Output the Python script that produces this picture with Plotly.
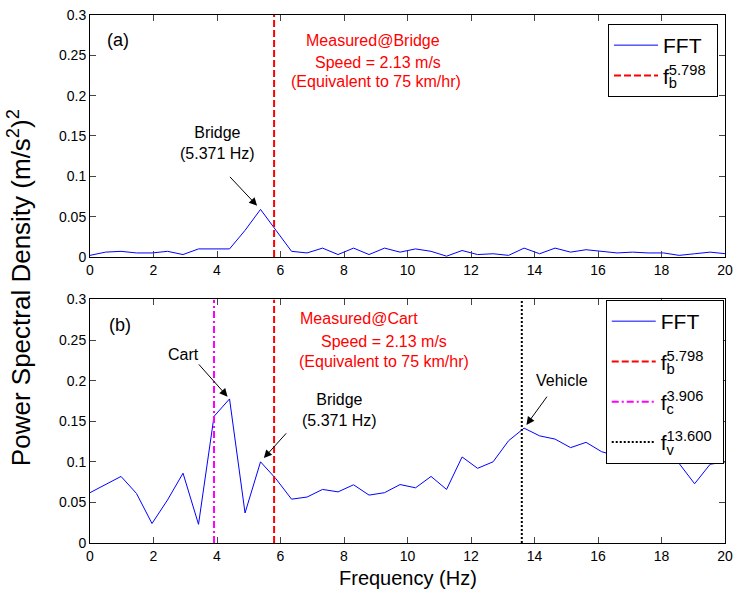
import plotly.graph_objects as go

# ---------------- data ----------------
freq = [0.000, 0.488, 0.977, 1.465, 1.953, 2.441, 2.930, 3.418, 3.906, 4.395,
        4.883, 5.371, 5.859, 6.348, 6.836, 7.324, 7.813, 8.301, 8.789, 9.277,
        9.766, 10.254, 10.742, 11.230, 11.719, 12.207, 12.695, 13.184, 13.672, 14.160,
        14.648, 15.137, 15.625, 16.113, 16.602, 17.090, 17.578, 18.066, 18.555, 19.043,
        19.531, 20.020]

psd_bridge = [0.002, 0.006, 0.007, 0.005, 0.005, 0.007, 0.003, 0.010, 0.010, 0.010,
              0.033, 0.059, 0.033, 0.007, 0.005, 0.011, 0.003, 0.011, 0.003, 0.011,
              0.006, 0.010, 0.007, 0.001, 0.008, 0.003, 0.004, 0.002, 0.011, 0.004,
              0.011, 0.006, 0.009, 0.007, 0.005, 0.006, 0.005, 0.005, 0.002, 0.004,
              0.006, 0.004]

psd_cart = [0.062, 0.072, 0.082, 0.061, 0.024, 0.053, 0.086, 0.023, 0.156, 0.1775,
            0.037, 0.100, 0.079, 0.054, 0.0566, 0.066, 0.063, 0.0717, 0.059, 0.062,
            0.072, 0.068, 0.082, 0.066, 0.106, 0.092, 0.100, 0.126, 0.1415, 0.132,
            0.128, 0.1175, 0.124, 0.1125, 0.107, 0.112, 0.118, 0.114, 0.098, 0.073,
            0.097, 0.100]

f_b = 5.798   # bridge frequency (dashed red)
f_c = 3.906   # cart frequency (dash-dot magenta)
f_v = 13.600  # vehicle frequency (dotted black)
peak_bridge_idx = 11
peak_cart_idx = 9
peak_vehicle_idx = 28

x_ticks = [0, 2, 4, 6, 8, 10, 12, 14, 16, 18, 20]
y_ticks = [0, 0.05, 0.1, 0.15, 0.2, 0.25, 0.3]
y_tick_labels = ["0", "0.05", "0.1", "0.15", "0.2", "0.25", "0.3"]
y_range = [0, 0.3]

FONT = "Liberation Sans, Arial, sans-serif"
BLUE = "#0000FF"
RED = "#FF0000"
MAGENTA = "#FF00FF"


def stacked(sub, sup, back):
    # subscript drawn with negative letter spacing so the superscript sits above it
    return (f'f<sub><span style="letter-spacing:-{back}px">{sub}</span></sub>'
            f'<sup>{sup:.3f}</sup>\u00a0')


fig = go.Figure()

# ---- top panel (a) ----
fig.add_trace(go.Scatter(x=freq, y=psd_bridge, mode="lines", name="FFT",
                         line=dict(color=BLUE, width=1), xaxis="x", yaxis="y",
                         legend="legend", legendgroup="a1"))
fig.add_trace(go.Scatter(x=[f_b, f_b], y=y_range, mode="lines",
                         name=stacked("b", f_b, 8.2),
                         line=dict(color=RED, width=2, dash="7px,3px"),
                         xaxis="x", yaxis="y", legend="legend", legendgroup="a2"))

# ---- bottom panel (b) ----
fig.add_trace(go.Scatter(x=freq, y=psd_cart, mode="lines", name="FFT",
                         line=dict(color=BLUE, width=1), xaxis="x2", yaxis="y2",
                         legend="legend2", legendgroup="b1"))
fig.add_trace(go.Scatter(x=[f_b, f_b], y=y_range, mode="lines",
                         name=stacked("b", f_b, 8.2),
                         line=dict(color=RED, width=2, dash="7px,3px"),
                         xaxis="x2", yaxis="y2", legend="legend2", legendgroup="b2"))
fig.add_trace(go.Scatter(x=[f_c, f_c], y=y_range, mode="lines",
                         name=stacked("c", f_c, 7.3),
                         line=dict(color=MAGENTA, width=2, dash="7px,3px,2px,3px"),
                         xaxis="x2", yaxis="y2", legend="legend2", legendgroup="b3"))
fig.add_trace(go.Scatter(x=[f_v, f_v], y=y_range, mode="lines",
                         name=stacked("v", f_v, 7.3),
                         line=dict(color="black", width=2, dash="2px,2px"),
                         xaxis="x2", yaxis="y2", legend="legend2", legendgroup="b4"))

axis_common = dict(range=[0, 20], tickvals=x_ticks, ticks="inside", ticklen=6,
                   showline=True, linecolor="black", linewidth=1, mirror="ticks",
                   showgrid=False, zeroline=False, automargin=False,
                   tickfont=dict(family=FONT, size=14, color="black"))
yaxis_common = dict(range=y_range, tickvals=y_ticks, ticktext=y_tick_labels,
                    ticks="inside", ticklen=6, showline=True, linecolor="black",
                    linewidth=1, mirror="ticks", showgrid=False, zeroline=False,
                    automargin=False,
                    tickfont=dict(family=FONT, size=14, color="black"))

legend_common = dict(bgcolor="white", bordercolor="black", borderwidth=1,
                     font=dict(family=FONT, size=21, color="black"),
                     itemwidth=44, xanchor="right", yanchor="top",
                     traceorder="grouped")

fig.update_layout(
    width=736, height=592, autosize=False,
    margin=dict(l=90, r=11, t=15, b=49, autoexpand=False),
    paper_bgcolor="white", plot_bgcolor="white",
    showlegend=True,
    xaxis=dict(domain=[0, 1], anchor="y", **axis_common),
    yaxis=dict(domain=[0.5417, 1], anchor="x", **yaxis_common),
    xaxis2=dict(domain=[0, 1], anchor="y2", **axis_common),
    yaxis2=dict(domain=[0, 0.4612], anchor="x2", **yaxis_common),
    legend=dict(x=0.989, y=0.983, tracegroupgap=0, **legend_common),
    legend2=dict(x=0.998, y=0.4602, tracegroupgap=10, **legend_common),
)

ann = []
def txt(x, y, s, xref, yref, color="black", size=16, xanchor="center"):
    ann.append(dict(x=x, y=y, xref=xref, yref=yref, text=s, showarrow=False,
                    xanchor=xanchor, yanchor="middle",
                    font=dict(family=FONT, size=size, color=color)))

def arrow(i, vals, xref, yref, ax, ay, standoff):
    ann.append(dict(x=freq[i], y=vals[i], xref=xref, yref=yref, text="",
                    showarrow=True, ax=ax, ay=ay, arrowhead=2, arrowsize=1.6,
                    arrowwidth=1, arrowcolor="black", standoff=standoff))

# panel (a) texts
txt(0.87, 0.269, "(a)", "x", "y", size=18)
txt(8.91, 0.269, "Measured@Bridge", "x", "y", color=RED)
txt(9.06, 0.2417, "Speed = 2.13 m/s", "x", "y", color=RED)
txt(9.02, 0.217, "(Equivalent to 75 km/hr)", "x", "y", color=RED)
txt(4.0, 0.1407, "Bridge<br>(5.371 Hz)", "x", "y")
arrow(peak_bridge_idx, psd_bridge, "x", "y", -32, -34, 5)

# panel (b) texts
txt(0.96, 0.2686, "(b)", "x2", "y2", size=18)
txt(8.47, 0.276, "Measured@Cart", "x2", "y2", color=RED)
txt(9.26, 0.2477, "Speed = 2.13 m/s", "x2", "y2", color=RED)
txt(9.26, 0.223, "(Equivalent to 75 km/hr)", "x2", "y2", color=RED)
txt(2.93, 0.2328, "Cart", "x2", "y2")
txt(7.87, 0.1639, "Bridge<br>(5.371 Hz)", "x2", "y2")
txt(14.87, 0.2008, "Vehicle", "x2", "y2")
arrow(peak_cart_idx, psd_cart, "x2", "y2", -32, -36, 3)
arrow(peak_bridge_idx, psd_cart, "x2", "y2", 27, -30, 5)
arrow(peak_vehicle_idx, psd_cart, "x2", "y2", 24, -33, 4)

# axis titles
ann.append(dict(x=-0.11, y=0.483, xref="paper", yref="paper",
                text="Power Spectral Density (m/s<sup>2</sup>)<sup>2</sup>",
                textangle=-90, showarrow=False, xanchor="center", yanchor="middle",
                font=dict(family=FONT, size=26, color="black")))
ann.append(dict(x=0.5, y=-0.066, xref="paper", yref="paper", text="Frequency (Hz)",
                showarrow=False, xanchor="center", yanchor="middle",
                font=dict(family=FONT, size=20, color="black")))

fig.update_layout(annotations=ann)
fig.write_html("out.html", config={"displayModeBar": False, "responsive": False},
               post_script="document.body.style.margin='0';document.body.style.padding='0';"
                           "document.documentElement.style.overflow='hidden';")
